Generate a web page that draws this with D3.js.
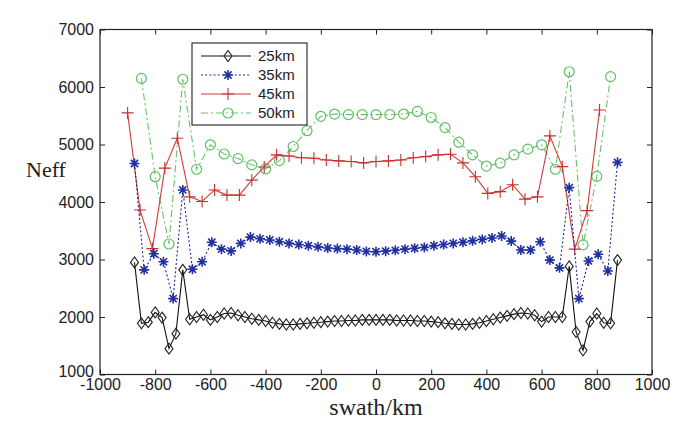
<!DOCTYPE html>
<html><head><meta charset="utf-8">
<script src="https://cdn.jsdelivr.net/npm/d3@7"></script>
<style>body{margin:0;background:#fff}svg{display:block}</style>
</head><body>
<svg id="c" width="677" height="421"></svg>
<script>
// ---- data ----
const xTicks = [-1000,-800,-600,-400,-200,0,200,400,600,800,1000];
const yTicks = [1000,2000,3000,4000,5000,6000,7000];
const seriesNames = ["25km","35km","45km","50km"];

const x25 = [-875,-850,-825,-800,-775,-750,-725,-700,-675,-650,-625,-600,-575,-550,-525,-500,-475,-450,-425,-400,-375,-350,-325,-300,-275,-250,-225,-200,-175,-150,-125,-100,-75,-50,-25,0,25,50,75,100,125,150,175,200,225,250,275,300,325,350,375,400,425,450,475,500,525,550,575,600,625,650,675,700,725,750,775,800,825,850,875];
const y25 = [2950,1890,1910,2080,1990,1450,1710,2820,1960,2000,2040,1950,2000,2060,2070,2030,2000,1970,1950,1930,1900,1880,1870,1870,1880,1890,1900,1910,1920,1930,1930,1940,1940,1950,1950,1950,1950,1950,1940,1940,1940,1930,1930,1920,1910,1890,1880,1870,1870,1880,1900,1930,1960,1990,2020,2050,2070,2060,2030,1920,2000,2000,2000,2880,1740,1420,1920,2060,1900,1890,2990];

const x35 = [-875,-840,-805,-770,-735,-700,-665,-630,-595,-560,-525,-490,-455,-420,-385,-350,-315,-280,-245,-210,-175,-140,-105,-70,-35,0,35,70,105,140,175,210,245,280,315,350,385,420,455,490,525,560,595,630,665,700,735,770,805,840,875];
const y35 = [4670,2820,3100,2960,2320,4210,2830,2960,3300,3180,3150,3280,3390,3360,3340,3310,3280,3260,3240,3220,3200,3190,3180,3165,3140,3135,3145,3160,3180,3195,3210,3240,3260,3280,3300,3325,3350,3375,3410,3320,3165,3165,3310,2990,2855,4250,2320,2975,3090,2800,4690];

const x45 = [-900,-855,-810,-765,-720,-675,-630,-585,-540,-495,-450,-405,-360,-315,-270,-225,-180,-135,-90,-45,0,45,90,135,180,225,270,315,360,405,450,495,540,585,630,675,720,765,810];
const y45 = [5550,3860,3190,4590,5110,4090,4010,4210,4120,4120,4380,4610,4820,4800,4770,4760,4730,4715,4705,4680,4705,4715,4730,4770,4790,4820,4830,4680,4440,4150,4180,4300,4050,4090,5150,4615,3180,3850,5600];

const x50 = [-850,-800,-750,-700,-650,-600,-550,-500,-450,-400,-350,-300,-250,-200,-150,-100,-50,0,50,100,150,200,250,300,350,400,450,500,550,600,650,700,750,800,850];
const y50 = [6150,4440,3270,6135,4570,4995,4835,4755,4645,4575,4720,4965,5240,5490,5530,5520,5520,5520,5520,5530,5575,5470,5295,5040,4820,4625,4675,4820,4920,4995,4570,6265,3255,4445,6180];

// ---- layout ----
const svg = d3.select("#c");
const L = 100, R = 652, T = 29.5, B = 374.5;
const x = d3.scaleLinear().domain([-1000,1000]).range([L,R]);
const y = d3.scaleLinear().domain([1000,7000]).range([B,T]);

svg.append("rect").attr("width",677).attr("height",421).attr("fill","#fff");

const fmt = d => String(d);
const tickFont = "'Liberation Sans', Arial, sans-serif";

const gx = svg.append("g").attr("transform",`translate(0,${B})`)
  .call(d3.axisBottom(x).tickValues(xTicks).tickSizeInner(-5).tickSizeOuter(0).tickPadding(4).tickFormat(fmt));
const gy = svg.append("g").attr("transform",`translate(${L},0)`)
  .call(d3.axisLeft(y).tickValues(yTicks).tickSizeInner(-5).tickSizeOuter(0).tickPadding(6).tickFormat(fmt));
const gt = svg.append("g").attr("transform",`translate(0,${T})`)
  .call(d3.axisTop(x).tickValues(xTicks).tickSizeInner(-5).tickSizeOuter(0).tickFormat(""));
const gr = svg.append("g").attr("transform",`translate(${R},0)`)
  .call(d3.axisRight(y).tickValues(yTicks).tickSizeInner(-5).tickSizeOuter(0).tickFormat(""));
[gx,gy,gt,gr].forEach(g=>{
  g.select(".domain").remove();
  g.selectAll("line").attr("stroke","#222");
  g.selectAll("text").attr("font-family",tickFont).attr("font-size",16).attr("fill","#222");
});
gy.selectAll(".tick").filter(d=>d===1000).select("text").attr("dy","0.1em");
svg.append("rect").attr("x",L).attr("y",T).attr("width",R-L).attr("height",B-T)
  .attr("fill","none").attr("stroke","#222").attr("stroke-width",1.2);

// ---- series ----
const line = d3.line().x(d=>x(d[0])).y(d=>y(d[1]));
const zip = (a,b)=>a.map((v,i)=>[v,b[i]]);

const styles = [
  {data: zip(x25,y25), color:"#111", dash:null, marker:"diamond", mcolor:"#222"},
  {data: zip(x35,y35), color:"#1a2a8c", dash:"2,2.2", marker:"star", mcolor:"#2030a0"},
  {data: zip(x45,y45), color:"#d23a3a", dash:null, marker:"plus", mcolor:"#c83030"},
  {data: zip(x50,y50), color:"#66c46a", dash:"7,3,2,3", marker:"circle", mcolor:"#62bf66"}
];

function markerPath(type){
  if(type==="diamond") return "M0,-5.5L4,0L0,5.5L-4,0Z";
  if(type==="star") return "M-5,0H5M0,-5V5M-3.6,-3.6L3.6,3.6M-3.6,3.6L3.6,-3.6";
  if(type==="plus") return "M-6,0H6M0,-6V6";
  return null;
}

const drawOrder = [3,2,1,0];
drawOrder.forEach(i=>{
  const s = styles[i];
  svg.append("path").datum(s.data).attr("d",line)
    .attr("fill","none").attr("stroke",s.color).attr("stroke-width",1.1)
    .attr("stroke-dasharray",s.dash);
  const g = svg.append("g");
  s.data.forEach(d=>{
    if(s.marker==="circle"){
      g.append("circle").attr("cx",x(d[0])).attr("cy",y(d[1])).attr("r",5)
        .attr("fill","none").attr("stroke",s.mcolor).attr("stroke-width",1.2);
    } else {
      g.append("path").attr("d",markerPath(s.marker))
        .attr("transform",`translate(${x(d[0])},${y(d[1])})`)
        .attr("fill","none").attr("stroke",s.mcolor).attr("stroke-width",s.marker==="star"?1.6:1.1);
    }
  });
});

// ---- legend ----
const lg = svg.append("g");
lg.append("rect").attr("x",192).attr("y",43).attr("width",115).attr("height",82)
  .attr("fill","#fff").attr("stroke","#222").attr("stroke-width",1.1);
const ly = [56,75,94,113];
styles.forEach((s,i)=>{
  lg.append("line").attr("x1",201).attr("x2",251).attr("y1",ly[i]).attr("y2",ly[i])
    .attr("stroke",s.color).attr("stroke-width",1.1).attr("stroke-dasharray",s.dash);
  if(s.marker==="circle"){
    lg.append("circle").attr("cx",228).attr("cy",ly[i]).attr("r",5)
      .attr("fill","none").attr("stroke",s.mcolor).attr("stroke-width",1.2);
  } else {
    lg.append("path").attr("d",markerPath(s.marker)).attr("transform",`translate(228,${ly[i]})`)
      .attr("fill","none").attr("stroke",s.mcolor).attr("stroke-width",s.marker==="star"?1.6:1.1);
  }
  lg.append("text").attr("x",258).attr("y",ly[i]).attr("dy","0.36em")
    .attr("font-family",tickFont).attr("font-size",15).attr("fill","#222").text(seriesNames[i]);
});

// ---- axis titles ----
svg.append("text").attr("x",376).attr("y",415).attr("text-anchor","middle")
  .attr("font-family","'Liberation Serif','Times New Roman',serif").attr("font-size",24)
  .attr("fill","#222").text("swath/km");
svg.append("text").attr("x",26).attr("y",177)
  .attr("font-family","'Liberation Serif','Times New Roman',serif").attr("font-size",22)
  .attr("fill","#222").text("Neff");
</script>
</body></html>
